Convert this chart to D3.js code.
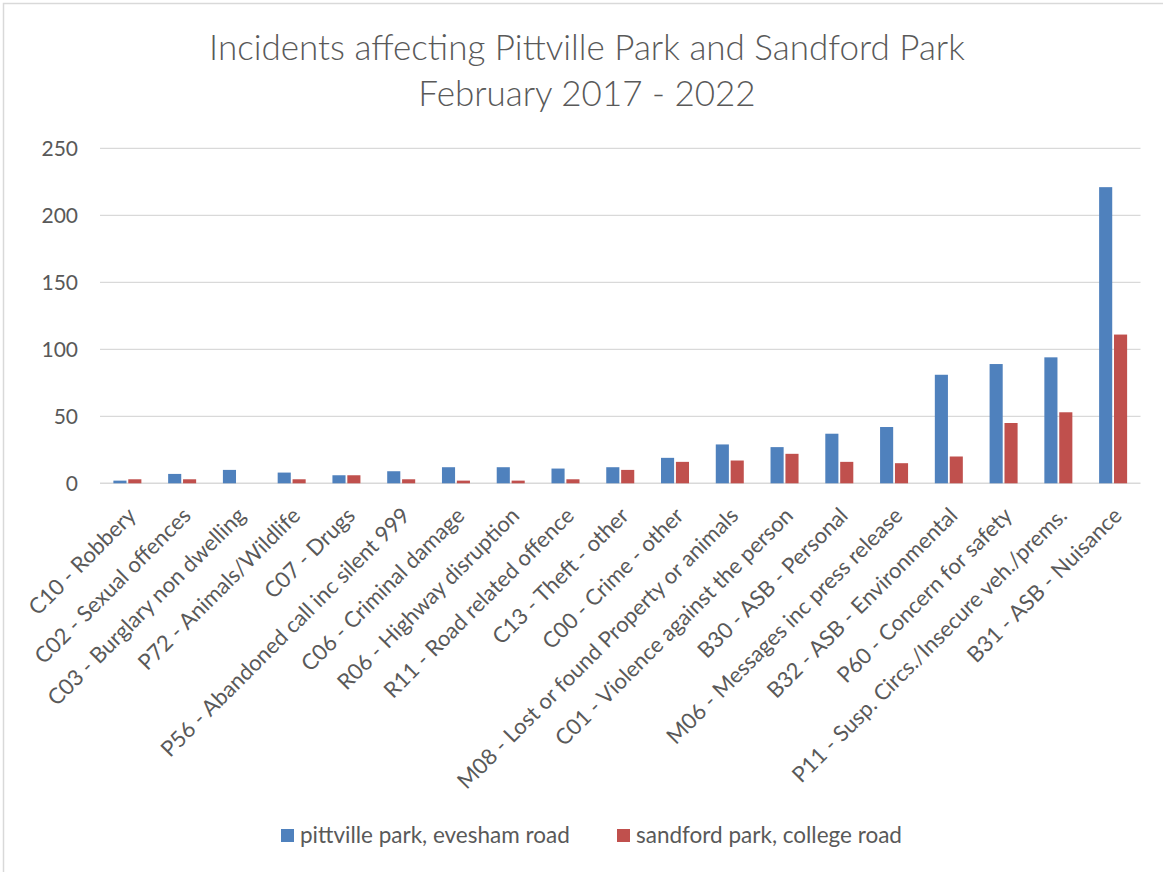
<!DOCTYPE html>
<html>
<head>
<meta charset="utf-8">
<script src="https://cdn.jsdelivr.net/npm/d3@7"></script>
<style>
  html, body { margin: 0; padding: 0; background: #ffffff; }
  svg { display: block; font-family: Lato, "Open Sans", sans-serif; }
</style>
</head>
<body>
<svg id="chart" width="1163" height="872"></svg>
<script>
// Incident categories, ordered by total count
const categories = [
  "C10 - Robbery",
  "C02 - Sexual offences",
  "C03 - Burglary non dwelling",
  "P72 - Animals/Wildlife",
  "C07 - Drugs",
  "P56 - Abandoned call inc silent 999",
  "C06 - Criminal damage",
  "R06 - Highway disruption",
  "R11 - Road related offence",
  "C13 - Theft - other",
  "C00 - Crime - other",
  "M08 - Lost or found Property or animals",
  "C01 - Violence against the person",
  "B30 - ASB - Personal",
  "M06 - Messages inc press release",
  "B32 - ASB - Environmental",
  "P60 - Concern for safety",
  "P11 - Susp. Circs./Insecure veh./prems.",
  "B31 - ASB - Nuisance"
];

const seriesNames = ["pittville park, evesham road", "sandford park, college road"];

const pittville = [2, 7, 10, 8, 6, 9, 12, 12, 11, 12, 19, 29, 27, 37, 42, 81, 89, 94, 221];
const sandford  = [3, 3, 0, 3, 6, 3, 2, 2, 3, 10, 16, 17, 22, 16, 15, 20, 45, 53, 111];

const yTicks = [0, 50, 100, 150, 200, 250];

const titleLines = ["Incidents affecting Pittville Park and Sandford Park", "February 2017 - 2022"];

const colors = ["#4F81BD", "#C0504D"];
const textColor = "#595959";
const gridColor = "#d9d9d9";

const svg = d3.select("#chart");
const W = 1163, H = 872;

// outer chart frame
svg.append("rect")
  .attr("x", 3.5).attr("y", 3.5)
  .attr("width", W + 10).attr("height", H + 10)
  .attr("fill", "#ffffff")
  .attr("stroke", gridColor).attr("stroke-width", 1.5);

const plot = { left: 100, right: 1140.5, top: 148.3, bottom: 483.3 };

const x = d3.scaleBand()
  .domain(categories)
  .range([plot.left, plot.right])
  .padding(0);

const y = d3.scaleLinear()
  .domain([0, 250])
  .range([plot.bottom, plot.top]);

// bar pair inside each category slot
const inner = d3.scaleBand()
  .domain([0, 1])
  .range([-14, 14])
  .paddingInner(0.12);

// horizontal gridlines
svg.append("g")
  .selectAll("line")
  .data(yTicks)
  .join("line")
  .attr("x1", plot.left).attr("x2", plot.right)
  .attr("y1", d => y(d)).attr("y2", d => y(d))
  .attr("stroke", gridColor)
  .attr("stroke-width", d => d === 0 ? 1.6 : 1.2);

// y tick labels
svg.append("g")
  .selectAll("text")
  .data(yTicks)
  .join("text")
  .attr("x", 78)
  .attr("y", d => y(d))
  .attr("dy", "0.36em")
  .attr("text-anchor", "end")
  .attr("fill", textColor)
  .attr("font-size", 21)
  .text(d => d);

// bars
const series = [pittville, sandford];
const groups = svg.append("g")
  .selectAll("g")
  .data(series)
  .join("g")
  .attr("fill", (d, i) => colors[i]);

groups.each(function (vals, si) {
  d3.select(this).selectAll("rect")
    .data(vals.map((v, i) => ({ cat: categories[i], v })))
    .join("rect")
    .attr("x", d => x(d.cat) + x.bandwidth() / 2 + inner(si))
    .attr("width", inner.bandwidth())
    .attr("y", d => y(d.v))
    .attr("height", d => y(0) - y(d.v));
});

// rotated category labels
svg.append("g")
  .selectAll("text")
  .data(categories)
  .join("text")
  .attr("transform", d => `translate(${x(d) + x.bandwidth() / 2 + 10}, 517) rotate(-45)`)
  .attr("text-anchor", "end")
  .attr("fill", textColor)
  .attr("font-size", 22)
  .text(d => d);

// title
svg.append("g")
  .selectAll("text")
  .data(titleLines)
  .join("text")
  .attr("x", 587)
  .attr("y", (d, i) => 60 + i * 46)
  .attr("text-anchor", "middle")
  .attr("fill", textColor)
  .attr("font-size", 35)
  .attr("font-weight", 300)
  .text(d => d);

// legend
const legendX = [281, 617];
const legend = svg.append("g")
  .selectAll("g")
  .data(seriesNames)
  .join("g")
  .attr("transform", (d, i) => `translate(${legendX[i]}, 829)`);

legend.append("rect")
  .attr("width", 13).attr("height", 13)
  .attr("fill", (d, i) => colors[i]);

legend.append("text")
  .attr("x", 19).attr("y", 13.5)
  .attr("fill", textColor)
  .attr("font-size", 22.5)
  .text(d => d);
</script>
</body>
</html>
